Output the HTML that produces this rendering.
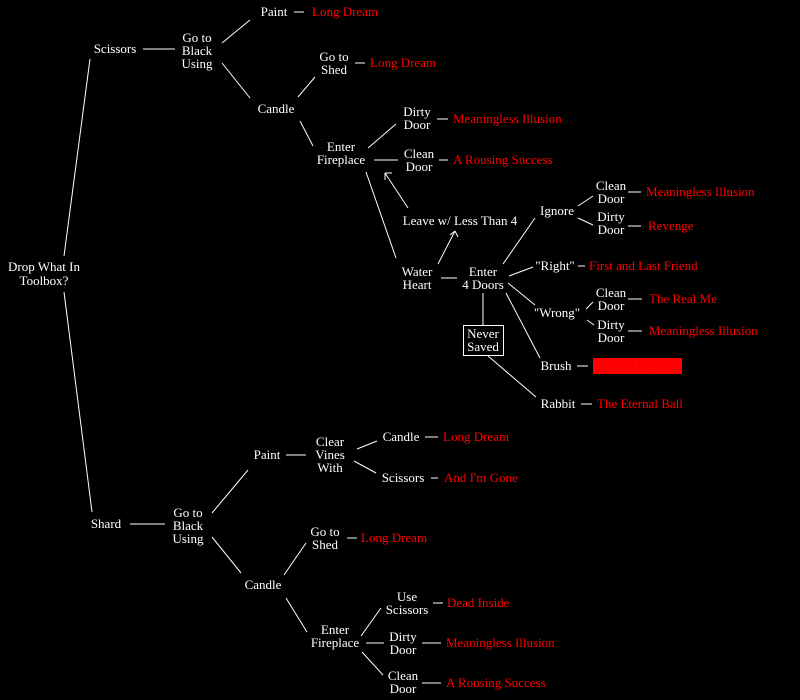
<!DOCTYPE html>
<html><head><meta charset="utf-8"><style>
html,body{margin:0;padding:0;background:#000;}
svg{display:block;}
text{font-family:"Liberation Serif",serif;font-size:13px;fill:#fff;}
.r{fill:#f00;text-anchor:start;}
.c{text-anchor:middle;}
line{stroke:#fff;stroke-width:1;}
</style></head><body>
<svg width="800" height="700" viewBox="0 0 800 700">
<g class="t">
<text class="c" x="44" y="271">Drop What In</text><text class="c" x="44" y="285">Toolbox?</text>
<text class="c" x="115" y="53">Scissors</text>
<text class="c" x="197" y="42">Go to</text><text class="c" x="197" y="55">Black</text><text class="c" x="197" y="68">Using</text>
<text class="c" x="274" y="16">Paint</text><text class="r" x="312" y="16">Long Dream</text>
<text class="c" x="334" y="61">Go to</text><text class="c" x="334" y="74">Shed</text><text class="r" x="370" y="67">Long Dream</text>
<text class="c" x="276" y="113">Candle</text>
<text class="c" x="341" y="151">Enter</text><text class="c" x="341" y="164">Fireplace</text>
<text class="c" x="417" y="116">Dirty</text><text class="c" x="417" y="129">Door</text><text class="r" x="453" y="123">Meaningless Illusion</text>
<text class="c" x="419" y="158">Clean</text><text class="c" x="419" y="171">Door</text><text class="r" x="453" y="164">A Rousing Success</text>
<text class="c" x="460" y="225">Leave w/ Less Than 4</text>
<text class="c" x="417" y="276">Water</text><text class="c" x="417" y="289">Heart</text>
<text class="c" x="483" y="276">Enter</text><text class="c" x="483" y="289">4 Doors</text>
<text class="c" x="557" y="215">Ignore</text>
<text class="c" x="611" y="190">Clean</text><text class="c" x="611" y="203">Door</text><text class="r" x="646" y="196">Meaningless Illusion</text>
<text class="c" x="611" y="221">Dirty</text><text class="c" x="611" y="234">Door</text><text class="r" x="648" y="230">Revenge</text>
<text class="c" x="555" y="270">"Right"</text><text class="r" x="589" y="270">First and Last Friend</text>
<text class="c" x="557" y="317">"Wrong"</text>
<text class="c" x="611" y="297">Clean</text><text class="c" x="611" y="310">Door</text><text class="r" x="649" y="303">The Real Me</text>
<text class="c" x="611" y="329">Dirty</text><text class="c" x="611" y="342">Door</text><text class="r" x="649" y="335">Meaningless Illusion</text>
<text class="c" x="556" y="370">Brush</text>
<rect x="593" y="358" width="89" height="16" fill="#f00"/><text class="r" x="600" y="370" style="fill:#e00">Jesse's Painting</text>
<text class="c" x="558" y="408">Rabbit</text><text class="r" x="597" y="408">The Eternal Ball</text>
<rect x="463.5" y="325.5" width="40" height="30" fill="none" stroke="#fff"/>
<text class="c" x="483" y="338">Never</text><text class="c" x="483" y="351">Saved</text>
<text class="c" x="106" y="528">Shard</text>
<text class="c" x="188" y="517">Go to</text><text class="c" x="188" y="530">Black</text><text class="c" x="188" y="543">Using</text>
<text class="c" x="267" y="459">Paint</text>
<text class="c" x="330" y="446">Clear</text><text class="c" x="330" y="459">Vines</text><text class="c" x="330" y="472">With</text>
<text class="c" x="401" y="441">Candle</text><text class="r" x="443" y="441">Long Dream</text>
<text class="c" x="403" y="482">Scissors</text><text class="r" x="444" y="482">And I'm Gone</text>
<text class="c" x="325" y="536">Go to</text><text class="c" x="325" y="549">Shed</text><text class="r" x="361" y="542">Long Dream</text>
<text class="c" x="263" y="589">Candle</text>
<text class="c" x="335" y="634">Enter</text><text class="c" x="335" y="647">Fireplace</text>
<text class="c" x="407" y="601">Use</text><text class="c" x="407" y="614">Scissors</text><text class="r" x="447" y="607">Dead Inside</text>
<text class="c" x="403" y="641">Dirty</text><text class="c" x="403" y="654">Door</text><text class="r" x="446" y="647">Meaningless Illusion</text>
<text class="c" x="403" y="680">Clean</text><text class="c" x="403" y="693">Door</text><text class="r" x="446" y="687">A Rousing Success</text>
</g>
<g>
<line x1="90" y1="59" x2="64" y2="256"/>
<line x1="64" y1="292" x2="92" y2="512"/>
<line x1="143" y1="49" x2="175" y2="49"/>
<line x1="222" y1="43" x2="250" y2="20"/>
<line x1="222" y1="63" x2="250" y2="98"/>
<line x1="294" y1="12" x2="304" y2="12"/>
<line x1="355" y1="63" x2="365" y2="63"/>
<line x1="298" y1="97" x2="315" y2="77"/>
<line x1="300" y1="121" x2="313" y2="146"/>
<line x1="368" y1="148" x2="396" y2="124"/>
<line x1="374" y1="160" x2="398" y2="160"/>
<line x1="366" y1="172" x2="396" y2="258"/>
<line x1="437" y1="119" x2="448" y2="119"/>
<line x1="439" y1="160" x2="448" y2="160"/>
<line x1="408" y1="208" x2="385" y2="173"/>
<line x1="385" y1="173" x2="385" y2="180"/><line x1="385" y1="173" x2="392" y2="173"/>
<line x1="438" y1="264" x2="455" y2="231"/>
<line x1="455" y1="231" x2="450" y2="235"/><line x1="455" y1="231" x2="458" y2="237"/>
<line x1="441" y1="278" x2="457" y2="278"/>
<line x1="503" y1="264" x2="535" y2="218"/>
<line x1="509" y1="276" x2="533" y2="267"/>
<line x1="508" y1="283" x2="535" y2="305"/>
<line x1="506" y1="293" x2="540" y2="358"/>
<line x1="483" y1="293" x2="483" y2="325"/>
<line x1="488" y1="356" x2="536" y2="397"/>
<line x1="578" y1="206" x2="593" y2="196"/>
<line x1="578" y1="218" x2="593" y2="225"/>
<line x1="628" y1="192" x2="641" y2="192"/>
<line x1="628" y1="226" x2="641" y2="226"/>
<line x1="578" y1="266" x2="585" y2="266"/>
<line x1="586" y1="309" x2="593" y2="302"/>
<line x1="587" y1="320" x2="594" y2="325"/>
<line x1="628" y1="299" x2="642" y2="299"/>
<line x1="628" y1="331" x2="642" y2="331"/>
<line x1="577" y1="366" x2="588" y2="366"/>
<line x1="581" y1="404" x2="592" y2="404"/>
<line x1="130" y1="524" x2="165" y2="524"/>
<line x1="212" y1="513" x2="248" y2="470"/>
<line x1="212" y1="537" x2="241" y2="573"/>
<line x1="286" y1="455" x2="306" y2="455"/>
<line x1="357" y1="449" x2="377" y2="441"/>
<line x1="354" y1="461" x2="376" y2="473"/>
<line x1="425" y1="437" x2="438" y2="437"/>
<line x1="431" y1="478" x2="438" y2="478"/>
<line x1="284" y1="575" x2="306" y2="543"/>
<line x1="347" y1="538" x2="357" y2="538"/>
<line x1="286" y1="598" x2="307" y2="632"/>
<line x1="361" y1="636" x2="381" y2="608"/>
<line x1="366" y1="643" x2="384" y2="643"/>
<line x1="362" y1="652" x2="383" y2="675"/>
<line x1="433" y1="603" x2="443" y2="603"/>
<line x1="422" y1="643" x2="441" y2="643"/>
<line x1="422" y1="683" x2="441" y2="683"/>
</g>
</svg>
</body></html>
